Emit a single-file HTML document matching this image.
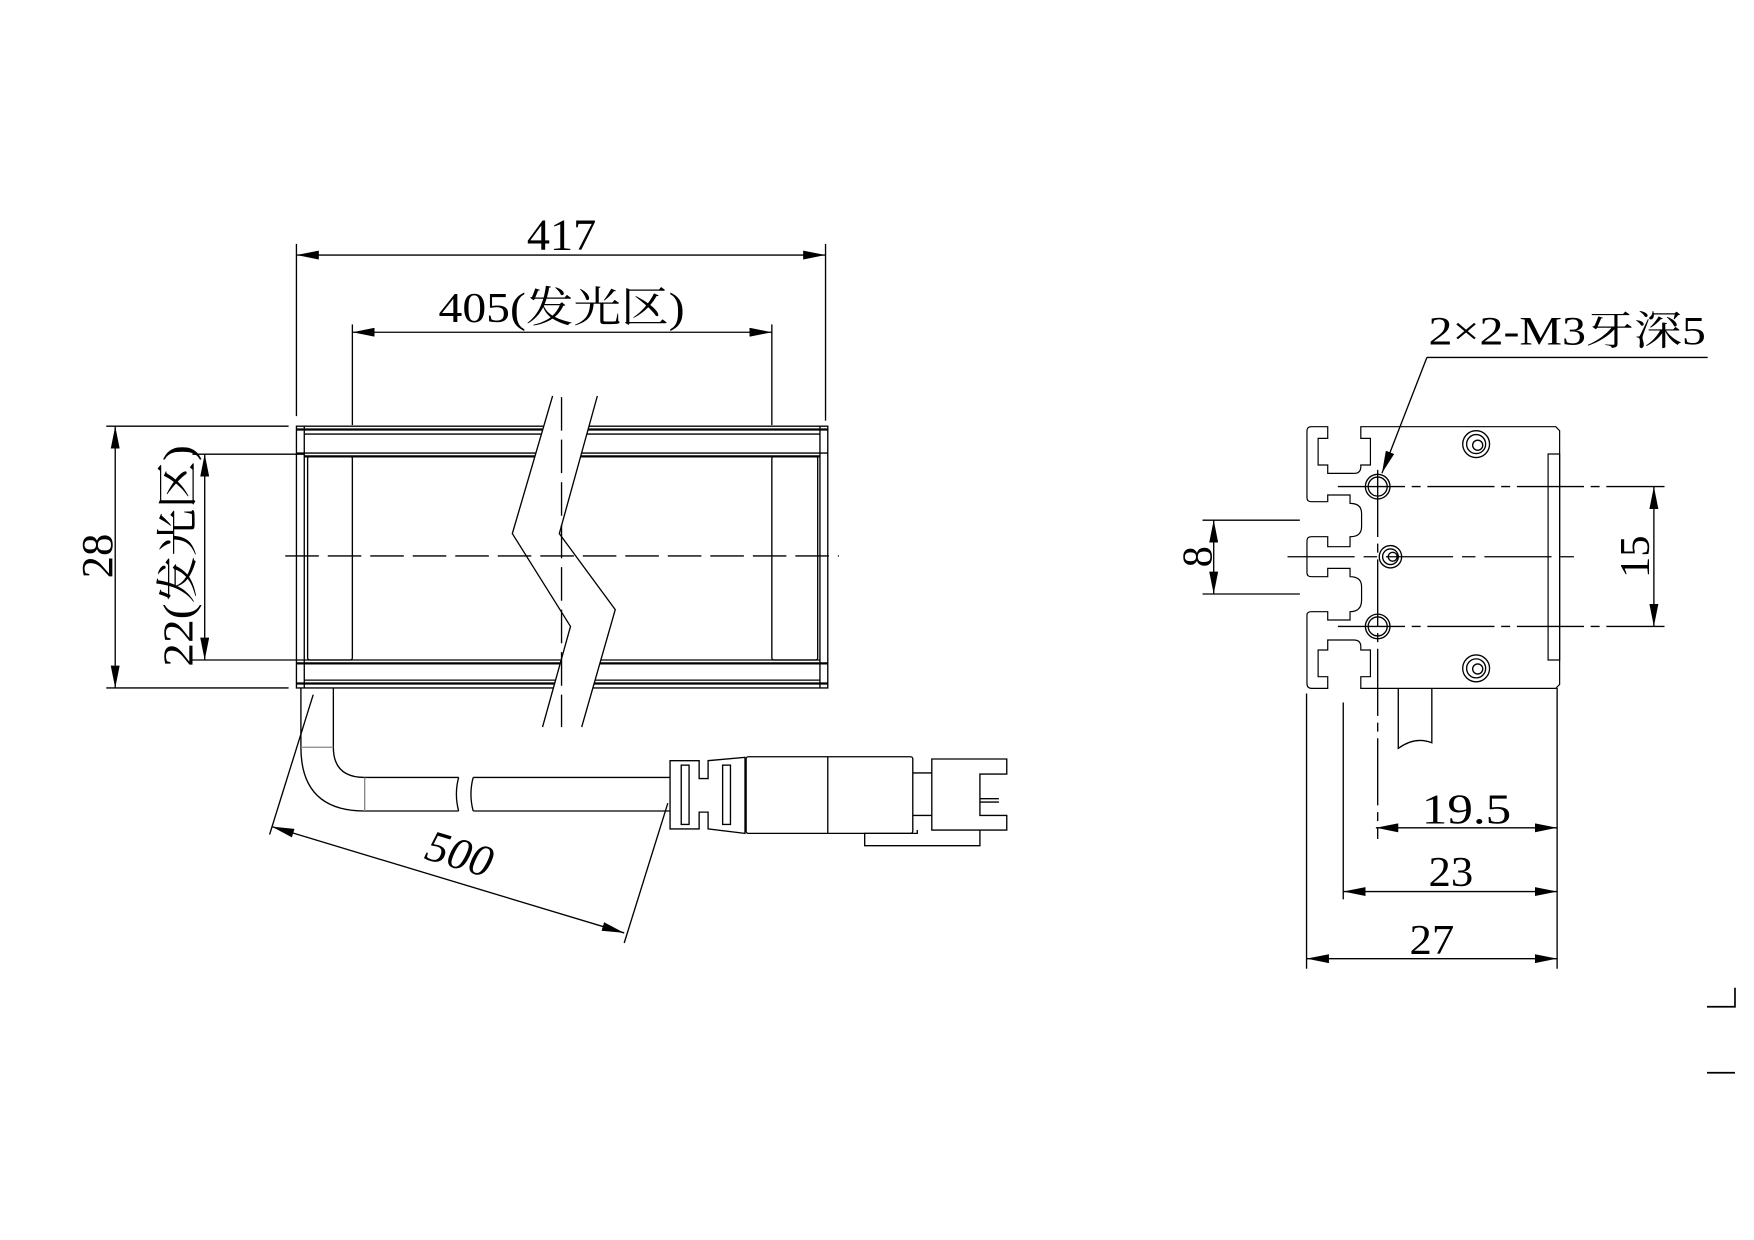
<!DOCTYPE html>
<html><head><meta charset="utf-8"><style>
html,body{margin:0;padding:0;background:#fff;}
svg{display:block}
text{font-family:"Liberation Serif","Noto Serif CJK SC",serif;fill:#000}
</style></head><body>
<svg width="1754" height="1240" viewBox="0 0 1568 1108.5" xmlns="http://www.w3.org/2000/svg">
<defs>
<marker id="a" viewBox="0 0 20 8" refX="20" refY="4" markerWidth="20" markerHeight="8" markerUnits="userSpaceOnUse" orient="auto-start-reverse">
<path d="M0,0 L20,4 L0,8 Z" fill="#000"/></marker>
</defs>
<g fill="none" stroke="#000" stroke-width="1.2">
<rect x="265" y="381" width="475" height="234"/>
<line x1="272" y1="381" x2="272" y2="615"/>
<line x1="733" y1="381" x2="733" y2="615"/>
<line x1="265" y1="384" x2="740" y2="384" stroke-width="2"/>
<line x1="272" y1="388" x2="733" y2="388"/>
<line x1="265" y1="405" x2="740" y2="405"/>
<line x1="272" y1="408" x2="733" y2="408" stroke-width="2"/>
<line x1="272" y1="590" x2="733" y2="590"/>
<line x1="265" y1="593" x2="740" y2="593" stroke-width="2"/>
<line x1="272" y1="608" x2="733" y2="608"/>
<line x1="265" y1="611" x2="740" y2="611" stroke-width="2"/>
<rect x="275" y="408" width="40" height="182" rx="2"/>
<rect x="690" y="408" width="41" height="182" rx="2"/>
<polygon points="458,477 510,560 485,650 520,650 550,545 500,477 534,354 494,354" fill="#fff" stroke="none"/>
<polyline points="494,354 458,477 510,560 485,650"/>
<polyline points="534,354 500,477 550,545 520,650"/>
<line x1="502" y1="355" x2="502" y2="650" stroke-dasharray="30,8"/>
<line x1="255" y1="497" x2="750" y2="497" stroke-dasharray="30,8"/>
<line x1="265" y1="218" x2="265" y2="372"/>
<line x1="738" y1="218" x2="738" y2="376"/>
<line x1="265" y1="228" x2="738" y2="228" marker-start="url(#a)" marker-end="url(#a)"/>
<line x1="315" y1="290" x2="315" y2="380"/>
<line x1="690" y1="290" x2="690" y2="380"/>
<line x1="315" y1="297" x2="690" y2="297" marker-start="url(#a)" marker-end="url(#a)"/>
<line x1="95" y1="381" x2="258" y2="381"/>
<line x1="95" y1="615" x2="258" y2="615"/>
<line x1="103" y1="381" x2="103" y2="615" marker-start="url(#a)" marker-end="url(#a)"/>
<line x1="172" y1="406" x2="272" y2="406"/>
<line x1="172" y1="590" x2="272" y2="590"/>
<line x1="183" y1="406" x2="183" y2="590" marker-start="url(#a)" marker-end="url(#a)"/>
<path d="M269,615 L269,668 Q269,725 326,725 L410,725"/>
<path d="M298,615 L298,668 Q298,695 326,695 L410,695"/>
<line x1="269" y1="668" x2="298" y2="668" stroke="#888"/>
<line x1="326" y1="695" x2="326" y2="725" stroke="#888"/>
<path d="M410,695 Q406,710 410,725"/>
<path d="M423,695 Q419,710 423,725"/>
<line x1="423" y1="695" x2="599" y2="695"/>
<line x1="423" y1="725" x2="599" y2="725"/>
<path d="M599,680 L625,680 L625,696 L633,696 L633,680 L666,677 L666,745 L633,741 L633,726 L625,726 L625,741 L599,741 Z"/>
<rect x="609" y="684" width="7" height="53"/>
<rect x="646" y="684" width="7" height="53"/>
<rect x="667" y="676.5" width="149" height="68.5" rx="2"/>
<line x1="740" y1="676.5" x2="740" y2="745"/>
<line x1="816" y1="691" x2="833" y2="691"/>
<line x1="816" y1="729" x2="833" y2="729"/>
<path d="M833,678.5 L900,678.5 L900,692 L876,692 L876,729 L900,729 L900,742 L833,742 Z"/>
<line x1="876" y1="714" x2="893" y2="714"/>
<line x1="876" y1="717" x2="893" y2="717"/>
<path d="M820,742 L820,745 L773,745 L773,756 L876,756 L876,742"/>
<line x1="280" y1="621" x2="241" y2="746"/>
<line x1="597" y1="718" x2="558" y2="843"/>
<line x1="243" y1="739" x2="558" y2="834" marker-start="url(#a)" marker-end="url(#a)"/>

<g transform="translate(1028.1,268.2) scale(0.3438,0.298)">
<path vector-effect="non-scaling-stroke" d="M420,380 L462,380 L462,415 L437,415 L437,495 L462,495 L462,520 L530,520 Q548,520 548,500 L548,495 L573,495 L573,415 L548,415 L548,380 L1055,380 L1065,392 L1065,1153 L1055,1165 L548,1165 L548,1130 L573,1130 L573,1050 L548,1050 L548,1040 Q548,1020 530,1020 L462,1020 L462,1050 L437,1050 L437,1130 L462,1130 L462,1165 L420,1165 Q408,1165 408,1150 L408,945 Q408,935 420,935 L462,935 L462,960 L520,960 L520,935 Q550,935 550,900 L550,860 Q550,830 520,830 L520,805 L462,805 L462,830 L420,830 Q408,830 408,818 L408,722 Q408,710 420,710 L462,710 L462,740 L520,740 L520,710 Q550,710 550,680 L550,640 Q550,610 520,610 L520,585 L462,585 L462,605 L420,605 Q408,605 408,593 L408,392 Q408,380 420,380 Z"/>
<rect vector-effect="non-scaling-stroke" x="1035" y="462" width="30" height="618"/>
</g>
<circle cx="1231.6" cy="435" r="11"/><circle cx="1231.6" cy="435" r="8.5"/>
<circle cx="1231.6" cy="560" r="11"/><circle cx="1231.6" cy="560" r="8.5"/>
<circle cx="1243" cy="497.7" r="10"/><circle cx="1243" cy="497.7" r="7"/><circle cx="1245" cy="497.7" r="4"/>
<circle cx="1319.6" cy="397" r="12"/><circle cx="1319.6" cy="397" r="8.5"/><circle cx="1321" cy="398" r="4.5"/>
<circle cx="1319.6" cy="597.5" r="12"/><circle cx="1319.6" cy="597.5" r="8.5"/><circle cx="1321" cy="598" r="4.5"/>
<line x1="1196" y1="435" x2="1488" y2="435" stroke-dasharray="60,6,8,6"/>
<line x1="1196" y1="560" x2="1488" y2="560" stroke-dasharray="60,6,8,6"/>
<line x1="1151" y1="497.7" x2="1408" y2="497.7" stroke-dasharray="60,8,12,8"/>
<line x1="1231.6" y1="420" x2="1231.6" y2="750" stroke-dasharray="60,6,8,6"/>
<line x1="1478.5" y1="435" x2="1478.5" y2="560" marker-start="url(#a)" marker-end="url(#a)"/>
<line x1="1075" y1="465" x2="1162" y2="465"/>
<line x1="1075" y1="531" x2="1162" y2="531"/>
<line x1="1085" y1="465" x2="1085" y2="531" marker-start="url(#a)" marker-end="url(#a)"/>
<polyline points="1526.6,319.5 1275.6,319.5"/>
<line x1="1275.6" y1="319.5" x2="1235.4" y2="423" marker-end="url(#a)"/>
<path d="M1250,615 L1250,669 Q1265,658 1280,664 L1280,615"/>
<line x1="1168" y1="620" x2="1168" y2="866"/>
<line x1="1392" y1="615" x2="1392" y2="866"/>
<line x1="1200.8" y1="628" x2="1200.8" y2="804"/>
<line x1="1230" y1="740" x2="1392" y2="740" marker-start="url(#a)" marker-end="url(#a)"/>
<line x1="1200.8" y1="797" x2="1392" y2="797" marker-start="url(#a)" marker-end="url(#a)"/>
<line x1="1168" y1="857" x2="1392" y2="857" marker-start="url(#a)" marker-end="url(#a)"/>
<polyline points="1526,900 1551,900 1551,883" stroke-width="1.5"/>
<line x1="1526" y1="959" x2="1551" y2="959" stroke-width="1.5"/>
</g>
<text x="502" y="223" font-size="40" text-anchor="middle" textLength="62" lengthAdjust="spacingAndGlyphs">417</text>
<text x="502" y="288" font-size="38" text-anchor="middle" textLength="220" lengthAdjust="spacingAndGlyphs">405(发光区)</text>
<text transform="translate(100,497) rotate(-90)" font-size="40" text-anchor="middle" textLength="40" lengthAdjust="spacingAndGlyphs">28</text>
<text transform="translate(172,497) rotate(-90)" font-size="38" text-anchor="middle" textLength="198" lengthAdjust="spacingAndGlyphs">22(发光区)</text>
<text transform="translate(407,776) rotate(16.8)" font-size="40" font-style="italic" text-anchor="middle" textLength="60" lengthAdjust="spacingAndGlyphs">500</text>
<text x="1401" y="308" font-size="36" text-anchor="middle" textLength="248" lengthAdjust="spacingAndGlyphs">2×2-M3牙深5</text>
<text transform="translate(1083,497.7) rotate(-90)" font-size="38" text-anchor="middle">8</text>
<text transform="translate(1474,497.7) rotate(-90)" font-size="38" text-anchor="middle" textLength="38" lengthAdjust="spacingAndGlyphs">15</text>
<text x="1311" y="736" font-size="38" text-anchor="middle" textLength="80" lengthAdjust="spacingAndGlyphs">19.5</text>
<text x="1297" y="792" font-size="38" text-anchor="middle" textLength="40" lengthAdjust="spacingAndGlyphs">23</text>
<text x="1280" y="853" font-size="38" text-anchor="middle" textLength="40" lengthAdjust="spacingAndGlyphs">27</text>
</svg>
</body></html>
